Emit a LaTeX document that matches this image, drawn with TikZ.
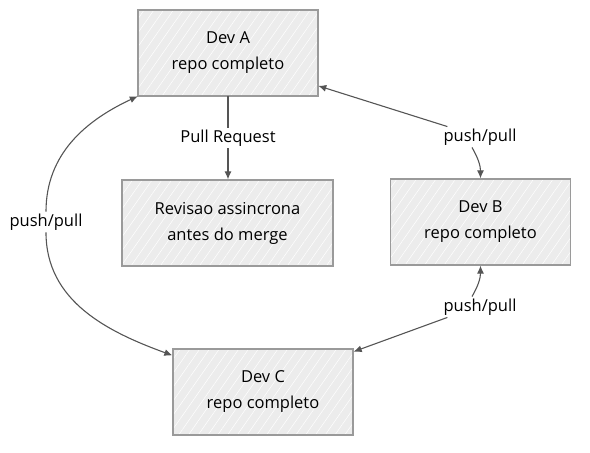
\documentclass[tikz,border=0pt]{standalone}
\usepackage{fontspec}
\setmainfont{Open Sans}
\usetikzlibrary{arrows.meta,patterns.meta}
\definecolor{boxfill}{HTML}{ECECEC}
\definecolor{boxline}{HTML}{9A9A9A}
\definecolor{arrcol}{HTML}{555555}
\tikzset{
  devbox/.style={draw=boxline, line width=1.3pt, minimum width=180pt, minimum height=86pt,
    align=center, font=\fontsize{16.5}{26}\selectfont,
    preaction={fill=boxfill},
    pattern={Lines[angle=55,distance=8pt,line width=0.5pt]}, pattern color=white},
  lbl/.style={fill=white, inner sep=2pt, font=\fontsize{16.5}{20}\selectfont},
  arr/.style={draw=arrcol, line width=1.1pt}
}
\begin{document}
\begin{tikzpicture}[x=1pt, y=1pt, >={Latex[length=8pt,width=7pt]}]
  \useasboundingbox (0,0) rectangle (590,453);

  \node[devbox] (devA) at (228,400) {Dev A\\repo completo};
  \node[devbox, minimum width=211pt] (rev) at (227.5,230) {Revisao assincrona\\antes do merge};
  \node[devbox] (devB) at (480.5,231) {Dev B\\repo completo};
  \node[devbox] (devC) at (263,61) {Dev C\\repo completo};

  \node[lbl] (ppAB) at (480,316) {push/pull};
  \node[lbl] (ppAC) at (46,231) {push/pull};
  \node[lbl] (ppBC) at (480,146) {push/pull};

  % pull request
  \draw[arr,->] (devA.south) -- node[lbl] (pr) {Pull Request} (devA.south |- rev.north);

  % A - B
  \draw[arr,<-] (devA.-20) -- ([xshift=6pt]ppAB.north west);
  \draw[arr,->] ([xshift=-8pt]ppAB.south) to[out=-60,in=90] (devB.north);

  % A - C
  \draw[arr,<-] (devA.south west) to[out=205,in=90] (ppAC.north);
  \draw[arr,->] (ppAC.south) to[out=-90,in=160] (devC.158);

  % B - C
  \draw[arr,<-] (devB.south) to[out=-90,in=60] ([xshift=-8pt]ppBC.north);
  \draw[arr,->] ([xshift=6pt]ppBC.south west) -- (devC.24);
\end{tikzpicture}
\end{document}
